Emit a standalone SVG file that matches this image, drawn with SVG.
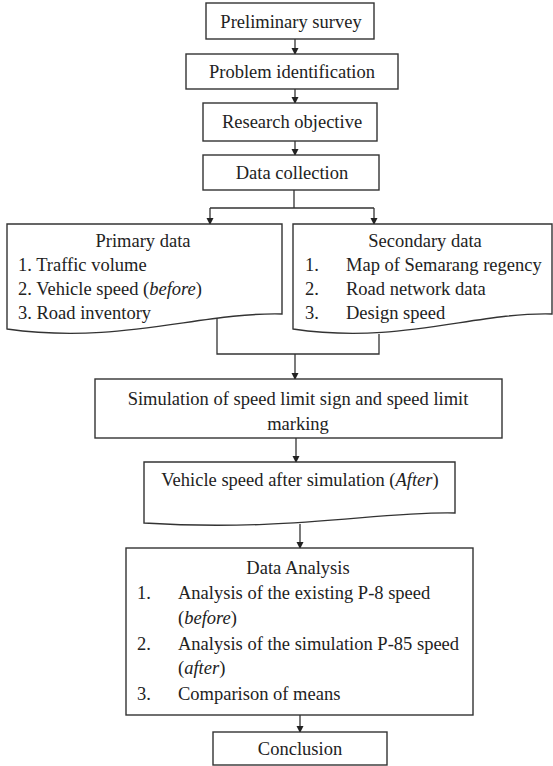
<svg xmlns="http://www.w3.org/2000/svg" width="553" height="766" viewBox="0 0 553 766">
<style>
.b{fill:#fff;stroke:#333;stroke-width:1.4}
.t{font-family:"Liberation Serif","Times New Roman",serif;font-size:18.5px;fill:#222}
.c{text-anchor:middle}
.i{font-style:italic}
.l{fill:none;stroke:#333;stroke-width:1.3}
</style>
<defs>
<marker id="ah" markerWidth="8" markerHeight="8" refX="6" refY="3.5" orient="auto" markerUnits="userSpaceOnUse">
<path d="M0,0 L7,3.5 L0,7 Z" fill="#222"/>
</marker>
</defs>
<rect width="553" height="766" fill="#fff"/>
<g id="connectors">
<path class="l" d="M295,39 V54" marker-end="url(#ah)"/>
<path class="l" d="M295,89 V103" marker-end="url(#ah)"/>
<path class="l" d="M295,141 V155" marker-end="url(#ah)"/>
<path class="l" d="M294,190 V208 M210,208 H374"/>
<path class="l" d="M210,208 V224" marker-end="url(#ah)"/>
<path class="l" d="M374,208 V224" marker-end="url(#ah)"/>
<path class="l" d="M217,318 V354 H379 V334"/>
<path class="l" d="M295,354 V379" marker-end="url(#ah)"/>
<path class="l" d="M296,438 V462" marker-end="url(#ah)"/>
<path class="l" d="M300,524 V548" marker-end="url(#ah)"/>
<path class="l" d="M300,715 V732" marker-end="url(#ah)"/>
</g>
<g id="preliminary">
<rect class="b" x="206" y="3" width="168" height="36"/>
<text class="t c" x="291" y="28">Preliminary survey</text>
</g>
<g id="problem">
<rect class="b" x="186" y="54" width="212" height="35"/>
<text class="t c" x="292" y="78">Problem identification</text>
</g>
<g id="objective">
<rect class="b" x="203" y="103" width="174" height="38"/>
<text class="t c" x="292" y="128">Research objective</text>
</g>
<g id="collection">
<rect class="b" x="203" y="155" width="176" height="35"/>
<text class="t c" x="292" y="179">Data collection</text>
</g>
<g id="primary">
<path class="b" d="M7,224 H282 V314 C200,312 120,345 7,329 Z"/>
<text class="t c" x="143" y="247">Primary data</text>
<text class="t" x="18" y="271">1. Traffic volume</text>
<text class="t" x="18" y="295">2. Vehicle speed (<tspan class="i">before</tspan>)</text>
<text class="t" x="18" y="319">3. Road inventory</text>
</g>
<g id="secondary">
<path class="b" d="M293,224 H552 V314 C474,312 400,345 293,329 Z"/>
<text class="t c" x="425" y="247">Secondary data</text>
<text class="t" x="305" y="271">1.</text>
<text class="t" x="346" y="271">Map of Semarang regency</text>
<text class="t" x="305" y="295">2.</text>
<text class="t" x="346" y="295">Road network data</text>
<text class="t" x="305" y="319">3.</text>
<text class="t" x="346" y="319">Design speed</text>
</g>
<g id="simulation">
<rect class="b" x="95" y="379" width="407" height="59"/>
<text class="t c" x="298" y="405">Simulation of speed limit sign and speed limit</text>
<text class="t c" x="298" y="430">marking</text>
</g>
<g id="vehicle">
<path class="b" d="M144,462 H455 V513 C380,511 290,532 144,523 Z"/>
<text class="t c" x="300" y="486">Vehicle speed after simulation (<tspan class="i">After</tspan>)</text>
</g>
<g id="analysis">
<rect class="b" x="126" y="548" width="347" height="167"/>
<text class="t c" x="298" y="574">Data Analysis</text>
<text class="t" x="137" y="599">1.</text>
<text class="t" x="178" y="599">Analysis of the existing P-8 speed</text>
<text class="t" x="178" y="624">(<tspan class="i">before</tspan>)</text>
<text class="t" x="137" y="650">2.</text>
<text class="t" x="178" y="650">Analysis of the simulation P-85 speed</text>
<text class="t" x="178" y="674">(<tspan class="i">after</tspan>)</text>
<text class="t" x="137" y="700">3.</text>
<text class="t" x="178" y="700">Comparison of means</text>
</g>
<g id="conclusion">
<rect class="b" x="213" y="732" width="174" height="33"/>
<text class="t c" x="300" y="755">Conclusion</text>
</g>
</svg>
